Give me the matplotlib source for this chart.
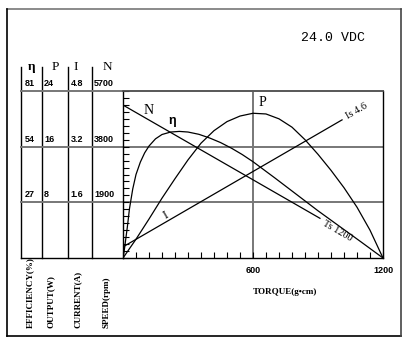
import matplotlib.pyplot as plt
import matplotlib.transforms as mtransforms
import numpy as np

# motor curve readings (torque in g.cm)
eta_torque = [0, 5, 10, 20, 30, 45, 60, 80, 100, 120, 150, 180, 220, 260, 300, 350, 400, 450,
              500, 550, 600, 700, 800, 900, 1000, 1100, 1200]
eta_vals = [0, 3, 7, 15, 24, 33.5, 40.5, 46.5, 51, 54.3, 57.8, 59.9, 61.1, 61.4, 61.1, 60, 58.2, 56,
            53.3, 50.2, 46.7, 38.9, 30.9, 22.9, 15.3, 7.7, 0]

p_torque = [0, 60, 120, 180, 240, 300, 360, 420, 480, 540, 600, 660, 720, 780, 840, 900, 960,
            1020, 1080, 1140, 1200]
p_vals = [0, 2.7, 5.6, 8.6, 11.4, 14.1, 16.5, 18.3, 19.6, 20.4, 20.8, 20.7, 20.0, 18.8, 17.0,
          14.9, 12.6, 10.1, 7.3, 4.0, 0]

i_torque = [0, 1011]
i_vals = [0.32, 3.97]

n_torque = [0, 909]
n_vals = [5220, 1355]

# scale table
headers = ['η', 'P', 'I', 'N']
eta_scale = [81, 54, 27]
out_scale = [24, 16, 8]
cur_scale = ['4.8', '3.2', '1.6']
spd_scale = [5700, 3800, 1900]
col_labels = ['EFFICIENCY(%)', 'OUTPUT(W)', 'CURRENT(A)', 'SPEED(rpm)']

W, H = 407, 345
SERIF = 'Liberation Serif'
SANS = 'Liberation Sans'

fig = plt.figure(figsize=(W / 100, H / 100), dpi=100)
fig.patch.set_facecolor('white')

# background axes in pixel units for frame / table
bg = fig.add_axes([0, 0, 1, 1])
bg.set_xlim(0, W)
bg.set_ylim(H, 0)
bg.axis('off')

# plot area: x 123..383, y 91..258 px
ax = fig.add_axes([123 / W, (H - 258) / H, 260 / W, 167 / H])
ax.set_xlim(0, 1200)
ax.set_ylim(0, 81)
ax.patch.set_alpha(0)

ax_p = ax.twinx()
ax_p.set_ylim(0, 24)
ax_i = ax.twinx()
ax_i.set_ylim(0, 4.8)
ax_n = ax.twinx()
ax_n.set_ylim(0, 5700)
for a in (ax_p, ax_i, ax_n):
    a.axis('off')

# outer border
bg.plot([7, 401], [9, 9], color='#777777', lw=1.2)
bg.plot([7, 7], [9, 336], color='black', lw=1.2)
bg.plot([7, 401], [336, 336], color='black', lw=1.2)
bg.plot([401, 401], [9, 336], color='#444444', lw=1.2)

# table verticals
for xv in [21, 42, 68, 92]:
    bg.plot([xv, xv], [67, 258], color='black', lw=1.0)
bg.plot([21, 123], [258, 258], color='black', lw=1.0)

# gridlines extending into the table
left_ext = (21 - 123) / 260
for yv in eta_scale:
    ax.axhline(yv, xmin=left_ext, xmax=1, color='#777777', lw=1.4, clip_on=False, zorder=1)
ax.axvline(600, color='#777777', lw=1.4, zorder=1)

# curves
ax.plot(eta_torque, eta_vals, color='black', lw=0.9)
ax_p.plot(p_torque, p_vals, color='black', lw=0.9)
ax_i.plot(i_torque, i_vals, color='black', lw=0.9)
ax_n.plot(n_torque, n_vals, color='black', lw=0.9)

# spines and ticks
for s in ['left', 'bottom', 'right']:
    ax.spines[s].set_color('black')
    ax.spines[s].set_linewidth(1.0)
ax.spines['top'].set_color('#555555')
ax.spines['top'].set_linewidth(1.2)

ax.set_xticks(np.arange(0, 1201, 60))
ax.set_xticklabels([str(t) if t in (600, 1200) else '' for t in np.arange(0, 1201, 60)],
                   fontfamily=SANS, fontweight='bold', fontsize=6.5)
ax.set_yticks(np.linspace(0, 81, 25))
ax.set_yticklabels([])
ax.tick_params(axis='both', direction='in', length=4, width=0.8, color='black')
ax.tick_params(axis='x', pad=6)

# table headers and numbers
head_x = [32, 55, 76, 107]
for hx, h in zip(head_x, headers):
    bg.text(hx, 73, h, ha='center', va='bottom', fontfamily=SERIF,
            fontweight='bold' if h == 'η' else 'normal', fontsize=9.5)

tr = mtransforms.blended_transform_factory(bg.transData, ax.transData)
cols = [(25, eta_scale, 'left'), (44, out_scale, 'left'), (83, cur_scale, 'right'), (94, spd_scale, 'left')]
for cx, vals, ha in cols:
    for yv, v in zip(eta_scale, vals):
        ax.text(cx, yv + 1.4, str(v), transform=tr, ha=ha, va='bottom',
                fontfamily=SANS, fontweight='bold', fontsize=6.5, clip_on=False)

for lx, lab in zip([30, 51, 78, 107], col_labels):
    bg.text(lx, 328, lab, rotation=90, ha='left', va='center', fontfamily=SERIF,
            fontweight='bold', fontsize=6.5, rotation_mode='anchor')

# curve labels
bg.text(149, 111, 'N', ha='center', va='center', fontfamily=SERIF, fontsize=10)
bg.text(172, 121, 'η', ha='center', va='center', fontfamily=SANS, fontweight='bold', fontsize=9)
bg.text(262, 103, 'P', ha='center', va='center', fontfamily=SERIF, fontsize=10)
bg.text(166, 215, 'I', ha='center', va='center', fontfamily=SERIF, fontsize=9, rotation=30)
bg.text(357, 111, 'Is 4.6', ha='center', va='center', fontfamily=SERIF, fontsize=7.5, rotation=30)
bg.text(337, 231, 'Ts 1200', ha='center', va='center', fontfamily=SERIF, fontsize=7.5, rotation=-30)

bg.text(285, 292, 'TORQUE(g•cm)', ha='center', va='center', fontfamily=SERIF,
        fontweight='bold', fontsize=6.5)
bg.text(333, 38, '24.0 VDC', ha='center', va='center', fontfamily='Liberation Mono', fontsize=9.5)

fig.savefig('out.png', dpi=100)
